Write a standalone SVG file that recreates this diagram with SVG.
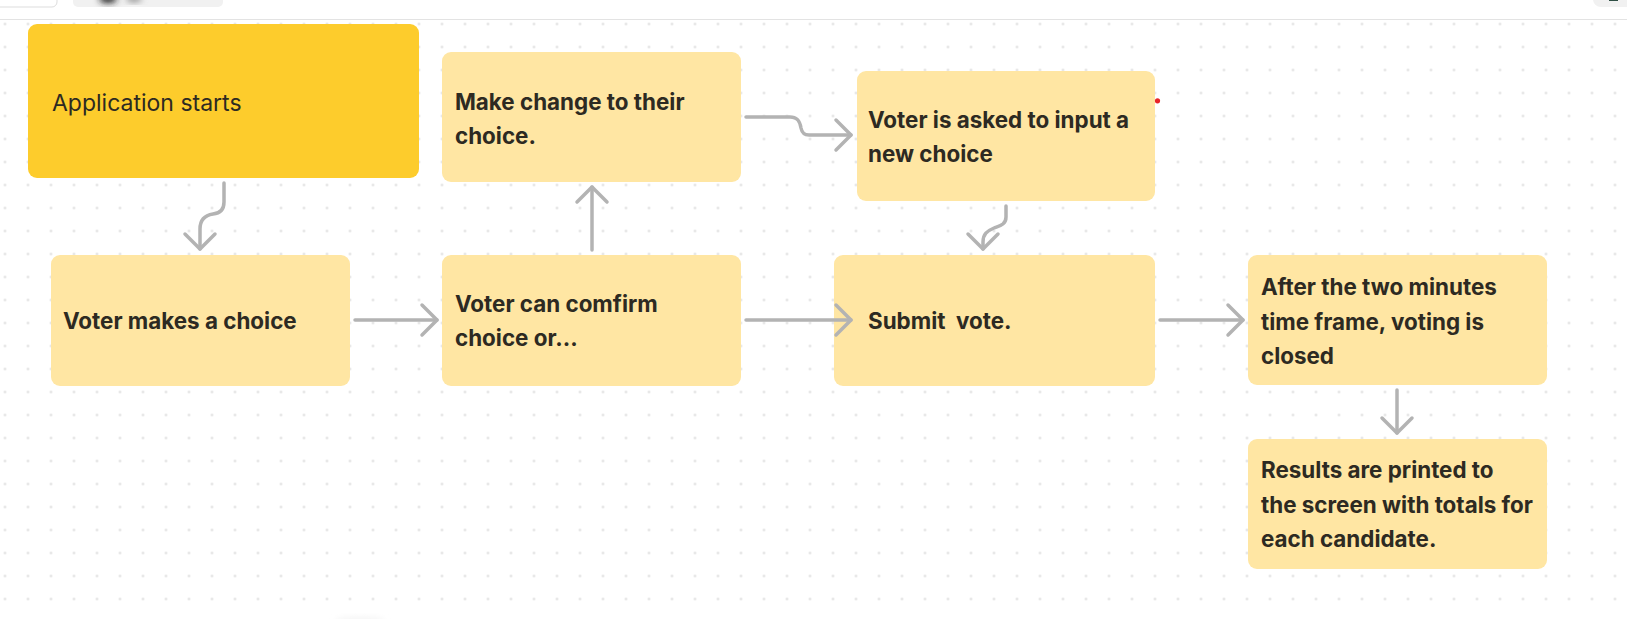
<svg xmlns="http://www.w3.org/2000/svg" width="1627" height="619" viewBox="0 0 1627 619">
  <defs>
    <style>
      .box { fill: #FFE6A3; }
      .start { fill: #FDCC2C; }
      .t { font-family: Inter, "Noto Sans", "Liberation Sans", sans-serif; font-size: 22.4px; font-weight: 700; fill: #2d2a22; }
      .tr { font-family: Inter, "Noto Sans", "Liberation Sans", sans-serif; font-size: 23px; font-weight: 400; fill: #2d2a22; }
      .conn { fill: none; stroke: #b3b3b3; stroke-width: 3.5; stroke-linecap: round; stroke-linejoin: round; marker-end: url(#arr); }
    </style>
    <pattern id="dots" x="-6.5" y="12.5" width="23" height="23" patternUnits="userSpaceOnUse">
      <circle cx="11.5" cy="11.5" r="1.2" fill="#dcdcdc"/>
    </pattern>
    <marker id="arr" markerUnits="userSpaceOnUse" viewBox="-20 -20 40 40" markerWidth="40" markerHeight="40" refX="0" refY="0" orient="auto">
      <path d="M-15,-15 L0,0 L-15,15" fill="none" stroke="#b3b3b3" stroke-width="3.5" stroke-linecap="round" stroke-linejoin="round"/>
    </marker>
    <filter id="blur" x="-50%" y="-50%" width="200%" height="200%">
      <feGaussianBlur stdDeviation="3"/>
    </filter>
  </defs>

  <rect x="0" y="0" width="1627" height="619" fill="#ffffff"/>
  <rect x="0" y="21" width="1627" height="598" fill="url(#dots)"/>

  <!-- top UI strip -->
  <g id="topbar">
    <line x1="0" y1="19.5" x2="1627" y2="19.5" stroke="#e3e3e3" stroke-width="1"/>
    <rect x="-10" y="-10" width="67" height="17" rx="5" fill="#ffffff" stroke="#dddddd" stroke-width="1"/>
    <rect x="73" y="-10" width="150" height="17" rx="5" fill="#f1f1f1"/>
    <ellipse cx="108" cy="-1" rx="9" ry="4" fill="#222222" filter="url(#blur)"/>
    <ellipse cx="134" cy="-1" rx="8" ry="3" fill="#8a8a8a" filter="url(#blur)"/>
    <rect x="1593" y="-10" width="50" height="17" rx="8" fill="#f1f1f1"/>
    <rect x="1609" y="-2" width="9" height="3" fill="#2f4f45"/>
    <ellipse cx="360" cy="621" rx="25" ry="4" fill="#f4f4f4" filter="url(#blur)"/>
  </g>

  <g id="n-start">
    <rect class="start" x="28" y="24" width="391" height="154" rx="9"/>
    <text class="tr" x="52" y="111">Application starts</text>
  </g>

  <g id="n-make-change">
    <rect class="box" x="442" y="52" width="299" height="130" rx="9"/>
    <text class="t" x="455" y="110">Make change to their</text>
    <text class="t" x="455" y="144">choice.</text>
  </g>

  <g id="n-new-choice">
    <rect class="box" x="857" y="71" width="298" height="130" rx="9"/>
    <text class="t" x="868" y="128">Voter is asked to input a</text>
    <text class="t" x="868" y="162">new choice</text>
  </g>

  <g id="n-makes-choice">
    <rect class="box" x="51" y="255" width="299" height="131" rx="9"/>
    <text class="t" x="63" y="329">Voter makes a choice</text>
  </g>

  <g id="n-confirm">
    <rect class="box" x="442" y="255" width="299" height="131" rx="9"/>
    <text class="t" x="455" y="312">Voter can comfirm</text>
    <text class="t" x="455" y="346">choice or...</text>
  </g>

  <g id="n-submit">
    <rect class="box" x="834" y="255" width="321" height="131" rx="9"/>
    <text class="t" x="868" y="329" xml:space="preserve">Submit  vote.</text>
  </g>

  <g id="n-closed">
    <rect class="box" x="1248" y="255" width="299" height="130" rx="9"/>
    <text class="t" x="1261" y="295">After the two minutes</text>
    <text class="t" x="1261" y="330">time frame, voting is</text>
    <text class="t" x="1261" y="364">closed</text>
  </g>

  <g id="n-results">
    <rect class="box" x="1248" y="439" width="299" height="130" rx="9"/>
    <text class="t" x="1261" y="478">Results are printed to</text>
    <text class="t" x="1261" y="513">the screen with totals for</text>
    <text class="t" x="1261" y="547">each candidate.</text>
  </g>

  <g id="connectors">
    <path class="conn" d="M224,183 L224,202 Q224,213 213,214 Q200,216 200,229 L200,249"/>
    <path class="conn" d="M355,320 L437,320"/>
    <path class="conn" d="M592,250 L592,187"/>
    <path class="conn" d="M746,117 L790,117 C798,117 800,122 801,128 C802,133 804,135 809,135 L851,135"/>
    <path class="conn" d="M1006,206 L1006,217 C1006,225 999,226 994,228 C987,231 983,234 983,242 L983,249"/>
    <path class="conn" d="M746,320 L851,320"/>
    <path class="conn" d="M1160,320 L1243,320"/>
    <path class="conn" d="M1397,390 L1397,433"/>
  </g>

  <circle cx="1157.5" cy="100.8" r="2.6" fill="#e8242a"/>
</svg>
